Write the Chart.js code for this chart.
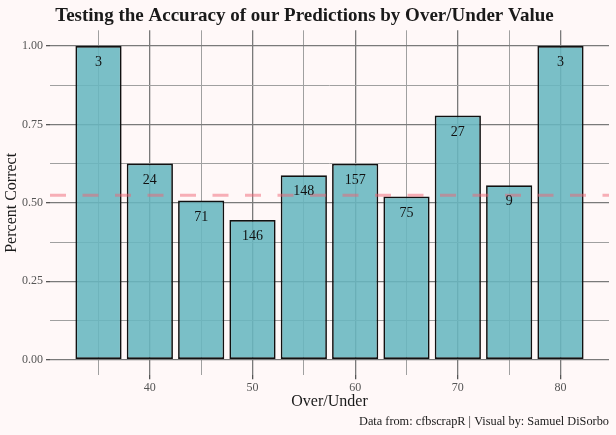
<!DOCTYPE html>
<html>
<head>
<meta charset="utf-8">
<script src="https://cdn.jsdelivr.net/npm/chart.js@4.4.1/dist/chart.umd.min.js"></script>
<style>
  html, body { margin: 0; padding: 0; background: #fff8f8; overflow: hidden; }
</style>
</head>
<body>
<canvas id="ouChart" width="616" height="435"></canvas>
<script>
// over/under buckets and how often the predictions were right
const ouValues = [35, 40, 45, 50, 55, 60, 65, 70, 75, 80];
const pctCorrect = [1.0, 0.625, 0.507, 0.445, 0.588, 0.624, 0.52, 0.778, 0.556, 1.0];
const gameCounts = [3, 24, 71, 146, 148, 157, 75, 27, 9, 3];
const breakEven = 0.524;

const xTicks = [35, 40, 45, 50, 55, 60, 65, 70, 75, 80];
const yTicks = [0, 0.125, 0.25, 0.375, 0.5, 0.625, 0.75, 0.875, 1.0];

const serif = "'Liberation Serif', 'DejaVu Serif', serif";

function isMajorY(v) {
  return Math.abs(v * 4 - Math.round(v * 4)) < 1e-9;
}

// dashed break-even line + counts on top of each bar
const extras = {
  id: 'extras',
  afterDatasetsDraw(chart) {
    const ctx = chart.ctx;
    const area = chart.chartArea;
    const yPix = chart.scales.y.getPixelForValue(breakEven);
    ctx.save();
    ctx.strokeStyle = 'rgba(240, 100, 115, 0.5)';
    ctx.lineWidth = 3;
    ctx.setLineDash([16, 16.5]);
    ctx.beginPath();
    ctx.moveTo(area.left, yPix);
    ctx.lineTo(area.right, yPix);
    ctx.stroke();
    ctx.setLineDash([]);

    ctx.fillStyle = '#111';
    ctx.font = "14px " + serif;
    ctx.textAlign = 'center';
    ctx.textBaseline = 'middle';
    chart.getDatasetMeta(0).data.forEach(function(bar, i) {
      ctx.fillText(gameCounts[i], bar.x, bar.y + 16.5);
    });
    ctx.restore();
  }
};

const ctx = document.getElementById('ouChart').getContext('2d');
const ouChart = new Chart(ctx, {
  type: 'bar',
  data: {
    datasets: [{
      data: ouValues.map((v, i) => ({ x: v, y: pctCorrect[i] })),
      backgroundColor: 'rgba(104, 182, 191, 0.88)',
      borderColor: '#111',
      borderWidth: 1.7,
      borderSkipped: false,
      barPercentage: 0.9,
      categoryPercentage: 1.0
    }]
  },
  plugins: [extras],
  options: {
    responsive: false,
    animation: false,
    devicePixelRatio: 1,
    layout: { padding: { left: 0, right: 7, top: 0, bottom: 0 } },
    plugins: {
      legend: { display: false },
      tooltip: { enabled: false },
      title: {
        display: true,
        text: 'Testing the Accuracy of our Predictions by Over/Under Value',
        color: '#1a1a1a',
        font: { family: serif, size: 19, weight: 'bold' },
        padding: { top: 5, bottom: 2.5 }
      },
      subtitle: {
        display: true,
        position: 'bottom',
        align: 'end',
        text: 'Data from: cfbscrapR | Visual by: Samuel DiSorbo',
        color: '#1a1a1a',
        font: { family: serif, size: 12.3 },
        padding: { top: 0, bottom: 6 }
      }
    },
    scales: {
      x: {
        type: 'linear',
        offset: false,
        min: 30.275,
        max: 84.725,
        afterBuildTicks: s => { s.ticks = xTicks.map(v => ({ value: v })); },
        afterFit: s => { s.height = 38.9; },
        ticks: {
          autoSkip: false,
          maxRotation: 0,
          padding: 1,
          color: '#555',
          font: { family: serif, size: 12 },
          callback: v => (v % 10 === 0 ? v : '')
        },
        grid: {
          offset: false,
          color: c => (c.tick && c.tick.value % 10 === 0 ? '#7a7a7a' : '#a0a0a0'),
          tickColor: c => (c.tick && c.tick.value % 10 === 0 ? '#555' : 'rgba(0,0,0,0)'),
          lineWidth: c => (c.tick && c.tick.value % 10 === 0 ? 1.3 : 1),
          tickLength: 4
        },
        border: { display: false },
        title: {
          display: true,
          text: 'Over/Under',
          color: '#1a1a1a',
          font: { family: serif, size: 16 },
          padding: { top: 0, bottom: 3.3 }
        }
      },
      y: {
        min: -0.05,
        max: 1.05,
        afterBuildTicks: s => { s.ticks = yTicks.map(v => ({ value: v })); },
        afterFit: s => { s.width = 50; },
        ticks: {
          autoSkip: false,
          padding: 3,
          color: '#555',
          font: { family: serif, size: 12 },
          callback: v => (isMajorY(v) ? v.toFixed(2) : '')
        },
        grid: {
          color: c => (c.tick && isMajorY(c.tick.value) ? '#7a7a7a' : '#a0a0a0'),
          tickColor: c => (c.tick && isMajorY(c.tick.value) ? '#555' : 'rgba(0,0,0,0)'),
          lineWidth: c => (c.tick && isMajorY(c.tick.value) ? 1.3 : 1),
          tickLength: 4
        },
        border: { display: false },
        title: {
          display: true,
          text: 'Percent Correct',
          color: '#1a1a1a',
          font: { family: serif, size: 16 },
          padding: { top: 2, bottom: 0 }
        }
      }
    }
  }
});
</script>
</body>
</html>
